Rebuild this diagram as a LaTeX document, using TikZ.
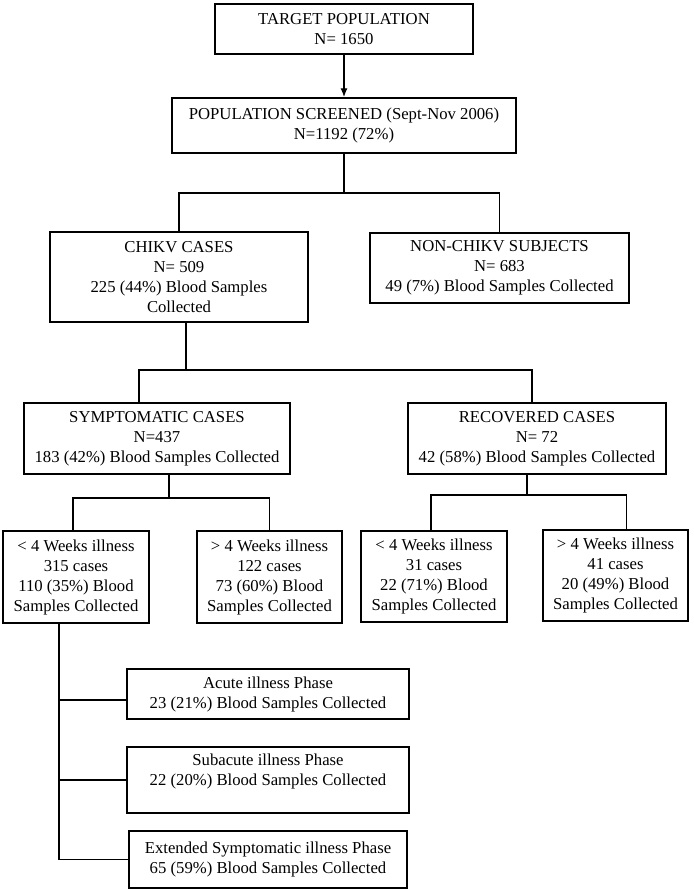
\documentclass[tikz,border=0pt]{standalone}
\usepackage{fontspec}
\setmainfont{Liberation Serif}
\usepackage{tikz}
\usetikzlibrary{arrows.meta}

\begin{document}
\begin{tikzpicture}[x=1pt,y=-1pt,line width=1.4pt,>={Latex[length=9pt,width=7pt]},
  box/.style={draw,rectangle,inner sep=0pt,align=center,font=\fontsize{16.7}{20}\selectfont},
  boldbox/.style={box,line width=1.8pt}]
% pixel coordinates, y runs downward
\useasboundingbox (0,0) rectangle (693,893);

% Target and screened population
\node[box,minimum width=258pt,minimum height=50pt] (target) at (344,29) {TARGET POPULATION\\N= 1650};
\node[box,minimum width=344pt,minimum height=55pt] (screened) at (344,125.5) {POPULATION SCREENED (Sept-Nov 2006)\\N=1192 (72\%)};
\draw[->] (target.south) -- (screened.north);

% CHIKV and non-CHIKV
\node[box,minimum width=258pt,minimum height=90pt] (chikv) at (179,277) {CHIKV CASES\\N= 509\\225 (44\%) Blood Samples\\Collected};
\node[box,minimum width=259pt,minimum height=70pt] (nonchikv) at (499.5,268) {NON-CHIKV SUBJECTS\\N= 683\\49 (7\%) Blood Samples Collected};
\coordinate (jScreen) at (344,193);
\draw (screened.south) -- (jScreen);
\draw (chikv.north) |- (jScreen) -| (nonchikv.north);

% Symptomatic and recovered
\node[box,minimum width=266pt,minimum height=71pt] (symp) at (157,438.5) {SYMPTOMATIC CASES\\N=437\\183 (42\%) Blood Samples Collected};
\node[box,minimum width=258pt,minimum height=71pt] (recov) at (537,438.5) {RECOVERED CASES\\N= 72\\42 (58\%) Blood Samples Collected};
\coordinate (jChikv) at (186,370);
\draw (chikv.south -| jChikv) -- (jChikv);
\draw ([xshift=-18pt]symp.north) |- (jChikv) -| ([xshift=-5pt]recov.north);

% Weeks of illness, symptomatic
\node[box,minimum width=146pt,minimum height=92pt] (sympA) at (76,577) {< 4 Weeks illness\\315 cases\\110 (35\%) Blood\\Samples Collected};
\node[box,minimum width=145pt,minimum height=92pt] (sympB) at (269.5,577) {> 4 Weeks illness\\122 cases\\73 (60\%) Blood\\Samples Collected};
\coordinate (jSymp) at (169,498);
\draw (symp.south -| jSymp) -- (jSymp);
\draw ([xshift=-3pt]sympA.north) |- (jSymp) -| (sympB.north);

% Weeks of illness, recovered
\node[boldbox,minimum width=146pt,minimum height=91pt] (recA) at (434,576.5) {< 4 Weeks illness\\31 cases\\22 (71\%) Blood\\Samples Collected};
\node[boldbox,minimum width=145pt,minimum height=91pt] (recB) at (615.5,575.5) {> 4 Weeks illness\\41 cases\\20 (49\%) Blood\\Samples Collected};
\coordinate (jRecov) at (527,495);
\draw (recov.south -| jRecov) -- (jRecov);
\draw ([xshift=-3pt]recA.north) |- (jRecov) -| ([xshift=11pt]recB.north);

% Illness phases
\node[box,minimum width=282pt,minimum height=50pt] (acute) at (268,694) {Acute illness Phase\\23 (21\%) Blood Samples Collected};
\node[box,minimum width=282pt,minimum height=66pt] (subacute) at (268,780) {Subacute illness Phase\\22 (20\%) Blood Samples Collected\\ \mbox{}};
\node[box,minimum width=278pt,minimum height=57pt] (extended) at (268,859.5) {Extended Symptomatic illness Phase\\65 (59\%) Blood Samples Collected};
\coordinate (spine) at (59,859);
\coordinate (acuteIn) at ([yshift=-6pt]acute.west);
\draw (sympA.south -| spine) |- (extended.west);
\draw (acuteIn -| spine) -- (acuteIn);
\draw (subacute.west -| spine) -- (subacute.west);
\end{tikzpicture}
\end{document}
